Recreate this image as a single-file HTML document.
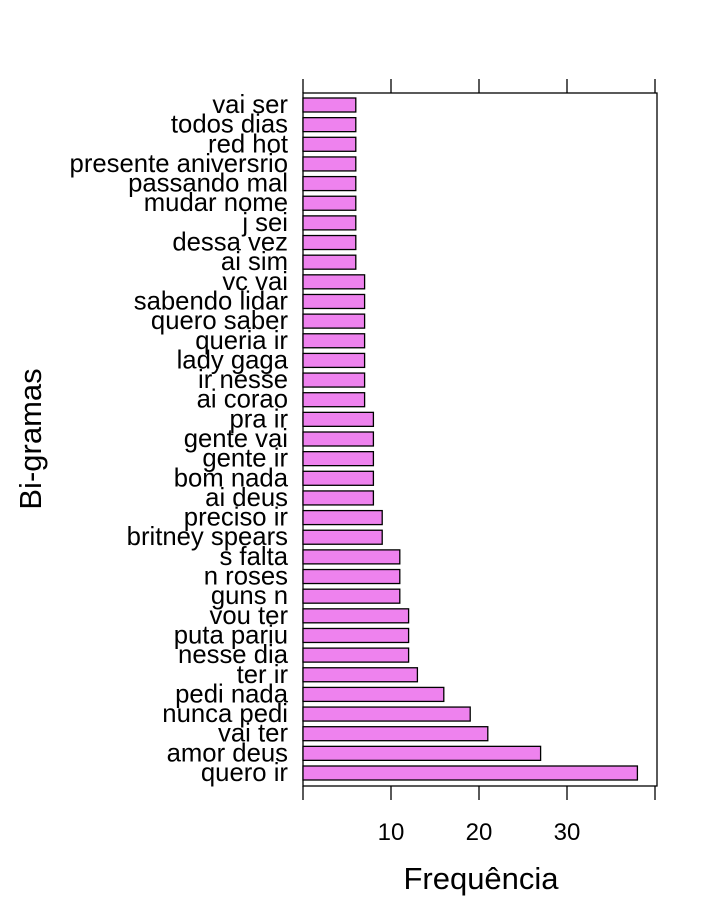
<!DOCTYPE html>
<html><head><meta charset="utf-8"><style>
body{margin:0;background:#fff;}
svg{display:block;font-family:"Liberation Sans",sans-serif;}
</style></head><body>
<svg id="chart" width="720" height="921"></svg>
<script>
const categories=["vai ser","todos dias","red hot","presente aniversrio","passando mal","mudar nome","j sei","dessa vez","ai sim","vc vai","sabendo lidar","quero saber","queria ir","lady gaga","ir nesse","ai corao","pra ir","gente vai","gente ir","bom nada","ai deus","preciso ir","britney spears","s falta","n roses","guns n","vou ter","puta pariu","nesse dia","ter ir","pedi nada","nunca pedi","vai ter","amor deus","quero ir"];
const values=[6,6,6,6,6,6,6,6,6,7,7,7,7,7,7,7,8,8,8,8,8,9,9,11,11,11,12,12,12,13,16,19,21,27,38];
const tickValues=[0,10,20,30,40];
const tickLabels=["","10","20","30",""];
const NS="http://www.w3.org/2000/svg";
const svg=document.getElementById('chart');
const L=303,R=657,T=93,B=786;
const xs=v=>L+v*8.8;
const yTop=105,yBot=773;
const ys=i=>yTop+i*(yBot-yTop)/(categories.length-1);
function mk(t,a,p){const e=document.createElementNS(NS,t);for(const k in a)e.setAttribute(k,a[k]);(p||svg).appendChild(e);return e;}
const frame=mk('rect',{x:L,y:T,width:R-L,height:B-T,fill:'none',stroke:'#000','stroke-width':1.3});


categories.forEach((c,i)=>{
  const y=ys(i);
  const b=mk('rect',{x:L,y:y-7,width:xs(values[i])-L,height:14,fill:'#EE82EE',stroke:'#000','stroke-width':1.3});
  
  
  const t=mk('text',{x:288,y:y+8,'text-anchor':'end','font-size':25.7});
  t.textContent=c;
  
  
});
tickValues.forEach((v,i)=>{
  const x=xs(v);
  const a=mk('line',{x1:x,x2:x,y1:T,y2:T-14,stroke:'#000','stroke-width':1.3});
  
  
  const b=mk('line',{x1:x,x2:x,y1:B,y2:B+14,stroke:'#000','stroke-width':1.3});
  
  
  if(tickLabels[i]){
    const t=mk('text',{x:x,y:840,'text-anchor':'middle','font-size':24});
    t.textContent=tickLabels[i];
    
    
  }
});
const xt=mk('text',{x:481,y:889,'text-anchor':'middle','font-size':31});
xt.textContent='Frequência';


const yt=mk('text',{x:0,y:0,'text-anchor':'middle','font-size':31,transform:'translate(41,439) rotate(-90)'});
yt.textContent='Bi-gramas';


</script>
</body></html>
